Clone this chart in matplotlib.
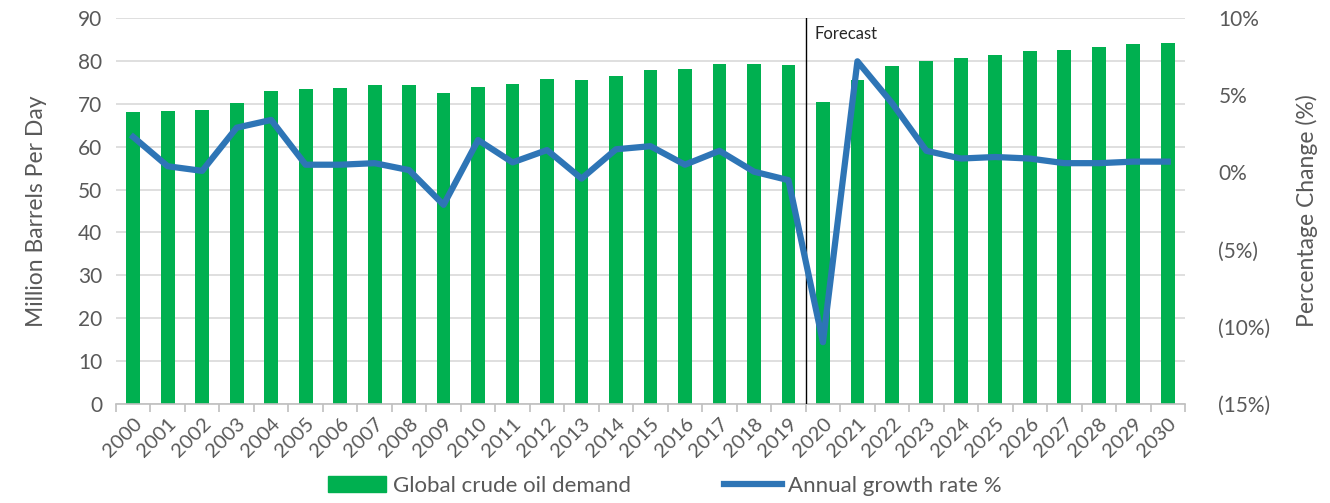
import matplotlib
matplotlib.use('Agg')
import matplotlib.pyplot as plt
from matplotlib.lines import Line2D
from matplotlib.patches import Patch

years = [str(y) for y in range(2000, 2031)]
demand = [68.0, 68.3, 68.6, 70.3, 73.0, 73.4, 73.7, 74.3, 74.3, 72.6,
          74.0, 74.6, 75.8, 75.5, 76.4, 78.0, 78.2, 79.4, 79.4, 79.1,
          70.4, 75.6, 78.9, 80.0, 80.6, 81.5, 82.3, 82.6, 83.3, 84.0, 84.3]
growth = [2.3, 0.4, 0.1, 2.9, 3.4, 0.5, 0.5, 0.6, 0.15, -2.1,
          2.1, 0.65, 1.45, -0.4, 1.5, 1.7, 0.5, 1.4, 0.05, -0.5,
          -11.0, 7.2, 4.5, 1.4, 0.9, 1.0, 0.9, 0.6, 0.6, 0.7, 0.7]
left_ticks = list(range(0, 100, 10))
right_ticks = [-15, -10, -5, 0, 5, 10]
right_labels = ['(15%)', '(10%)', '(5%)', '0%', '5%', '10%']

plt.rcParams['font.family'] = ['Lato', 'DejaVu Sans']
grey = '#595959'
green = '#00B050'
blue = '#2E75B6'

fig = plt.figure(figsize=(13.3, 5.03), dpi=100)
ax = fig.add_axes([0.0872, 0.197, 0.8038, 0.767])
x = list(range(len(years)))

ax.bar(x, demand, width=0.4, color=green, zorder=2)
ax.set_xlim(-0.5, len(years) - 0.5)
ax.set_ylim(0, 90)
ax.set_yticks(left_ticks)
ax.yaxis.grid(True, color='#D9D9D9', linewidth=1.2, zorder=0)
ax.set_axisbelow(True)
for s in ['top', 'left', 'right']:
    ax.spines[s].set_visible(False)
ax.spines['bottom'].set_color('#BFBFBF')
ax.spines['bottom'].set_linewidth(1.2)
ax.set_xticks(x)
ax.set_xticklabels(years, rotation=45, ha='right', rotation_mode='anchor')
ax.set_xticks([i - 0.5 for i in range(len(years) + 1)], minor=True)
ax.tick_params(axis='x', which='major', length=0, pad=8, labelsize=14.5, labelcolor=grey)
ax.tick_params(axis='x', which='minor', length=6, color='#BFBFBF', width=1.2)
ax.tick_params(axis='y', length=0, labelsize=15, labelcolor=grey, pad=10)
ax.set_ylabel('Million Barrels Per Day', fontsize=16.5, color=grey, labelpad=22)

ax.axvline(19.5, color='black', linewidth=1, zorder=3)
ax.text(19.75, 86.3, 'Forecast', fontsize=12, color='#262626', va='center')

ax2 = ax.twinx()
ax2.plot(x, growth, color=blue, linewidth=4.5, solid_joinstyle='round', zorder=4)
ax2.set_ylim(-15, 10)
ax2.set_yticks(right_ticks)
ax2.set_yticklabels(right_labels)
for s in ['top', 'left', 'right', 'bottom']:
    ax2.spines[s].set_visible(False)
ax2.tick_params(axis='y', length=0, labelsize=15, labelcolor=grey, pad=24)
ax2.set_ylabel('Percentage Change (%)', fontsize=16.5, color=grey, labelpad=18)

handles = [Patch(color=green), Line2D([0], [0], color=blue, linewidth=4.5)]
fig.legend(handles, ['Global crude oil demand', 'Annual growth rate %'],
           loc='lower center', bbox_to_anchor=(0.5, -0.025), ncol=2, frameon=False,
           fontsize=16, labelcolor=grey, handlelength=2.6, handletextpad=0.3,
           columnspacing=4.2)

plt.savefig('out.png', dpi=100)
